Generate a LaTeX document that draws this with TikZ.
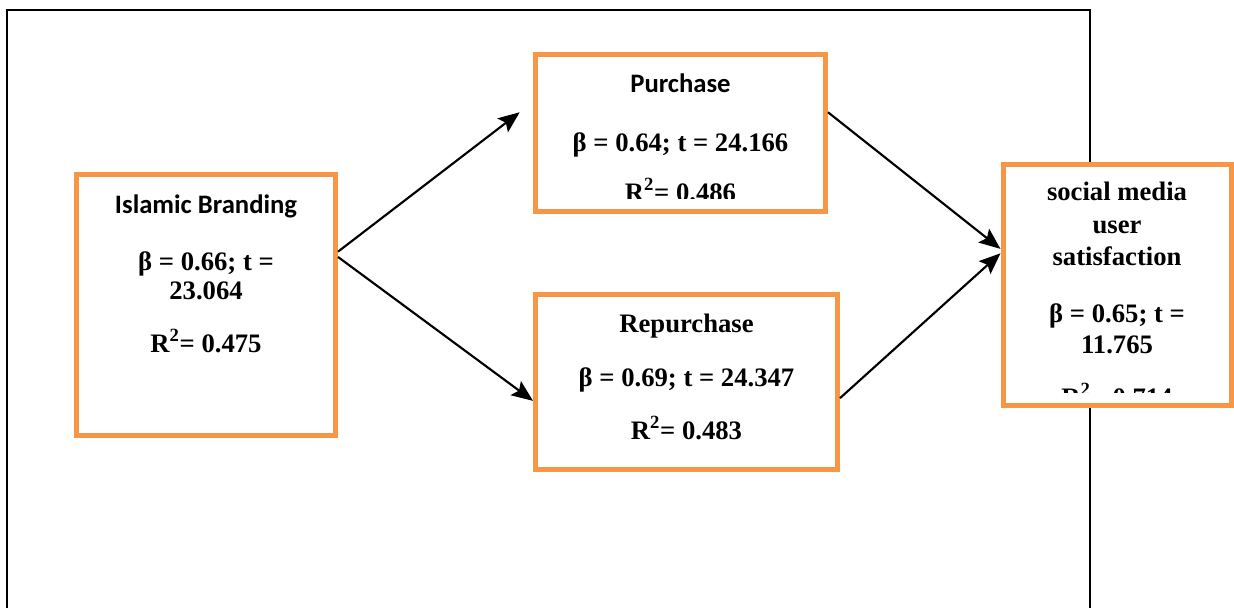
\documentclass[tikz,border=0pt]{standalone}
\usepackage{fontspec}
\setmainfont{Liberation Serif}
\newfontfamily\calibri{Carlito}
\usetikzlibrary{arrows.meta}
\definecolor{boxorange}{RGB}{247,150,70}

\tikzset{
  box/.style={draw=boxorange, line width=3.75pt, fill=white, inner sep=0pt},
  ttl/.style={anchor=base, inner sep=0pt, font=\calibri\fontsize{20}{24}\selectfont\bfseries},
  val/.style={anchor=base, inner sep=0pt, font=\fontsize{20}{24}\selectfont\bfseries},
  path arrow/.style={line width=1.6pt, -{Stealth[length=16pt,width=13pt,inset=3pt]}}
}

\begin{document}
\begin{tikzpicture}[x=0.75pt,y=0.75pt,yscale=-1,xscale=1]
    \useasboundingbox (0,0) rectangle (1234,608);

    %Shape: outer frame, open at the bottom
    \draw[line width=1.5pt] (7,608) -- (7,10) -- (1090,10) -- (1090,608);

    %Shape: Boxes
    \node[box, minimum width=194.25pt, minimum height=195.75pt] (ib) at (206,305) {};
    \node[box, minimum width=217.5pt, minimum height=117.75pt] (pu) at (680.5,133) {};
    \node[box, minimum width=226.5pt, minimum height=131.25pt] (re) at (686.5,382) {};
    \node[box, minimum width=171pt, minimum height=180.75pt] (sm) at (1117,284.5) {};

    % Text Node
    \node[ttl] (ibT) at (206,213) {Islamic Branding};
    \node[val] (ibB) at (206,270) {β = 0.66; t =};
    \node[val] (ibT2) at (206,299) {23.064};
    \node[val] (ibR) at (206,352) {R\textsuperscript{2}= 0.475};

    % Text Node (cut off by the box edge)
    \begin{scope}
      \clip (538,57) rectangle (823,198);
      \node[ttl] (puT) at (680.5,92) {Purchase};
      \node[val] (puB) at (680.5,151) {β = 0.64; t = 24.166};
      \node[val] (puR) at (680.5,201) {R\textsuperscript{2}= 0.486};
    \end{scope}

    % Text Node
    \node[val] (reT) at (686.5,332) {Repurchase};
    \node[val] (reB) at (686.5,386) {β = 0.69; t = 24.347};
    \node[val] (reR) at (686.5,439) {R\textsuperscript{2}= 0.483};

    % Text Node (cut off by the box edge)
    \begin{scope}
      \clip (1006,167) rectangle (1228,392);
      \node[val] (smT1) at (1117,200) {social media};
      \node[val] (smT2) at (1117,233) {user};
      \node[val] (smT3) at (1117,265) {satisfaction};
      \node[val] (smB) at (1117,322) {β = 0.65; t =};
      \node[val] (smB2) at (1117,353) {11.765};
      \node[val] (smR) at (1117,406) {R\textsuperscript{2}= 0.714};
    \end{scope}

    %Straight Lines
    \draw[path arrow] (ib.22) -- ([xshift=-10pt]pu.172);
    \draw[path arrow] (ib.20) -- (re.187.5);
    \draw[path arrow] (pu.8) -- (sm.163);
    \draw[path arrow] (re.-6) -- (sm.165);

\end{tikzpicture}
\end{document}
